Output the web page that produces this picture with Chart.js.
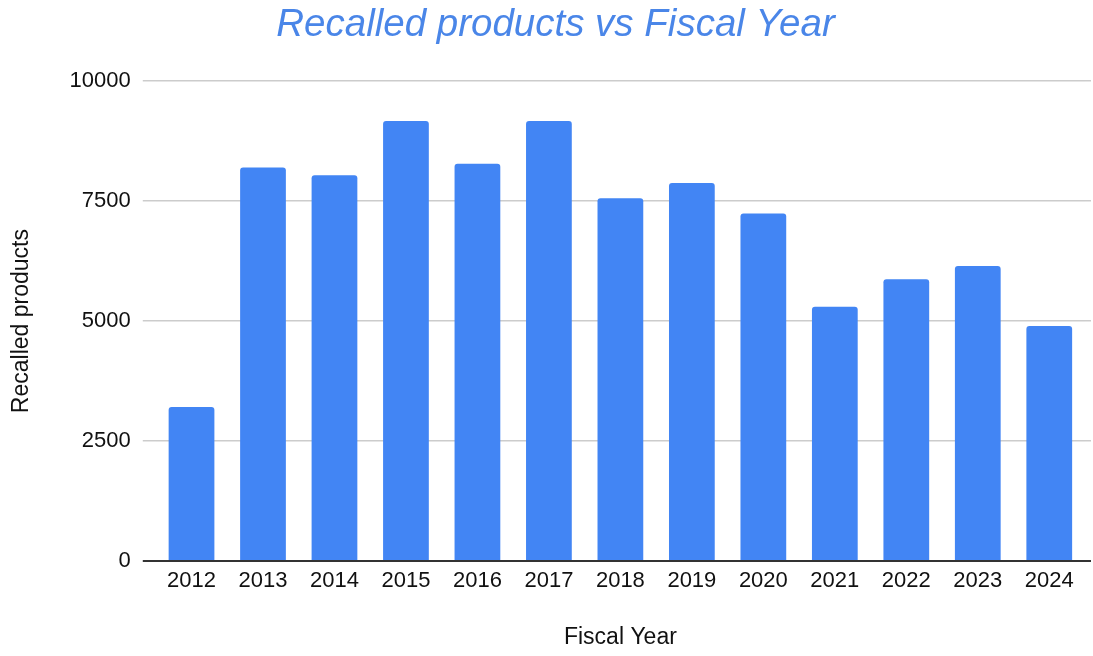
<!DOCTYPE html>
<html>
<head>
<meta charset="utf-8">
<script src="https://cdn.jsdelivr.net/npm/chart.js@4"></script>
<style>
  html, body { margin: 0; padding: 0; background: #fff; }
  #wrap { width: 1093px; height: 656px; }
</style>
</head>
<body>
<div id="wrap"><canvas id="chart"></canvas></div>
<script>
// Fiscal years on the x axis
const years = ['2012', '2013', '2014', '2015', '2016', '2017', '2018',
  '2019', '2020', '2021', '2022', '2023', '2024'];

// Recalled products per year
const recalled = [3210, 8200, 8040, 9170, 8280, 9170, 7560,
  7880, 7240, 5300, 5870, 6150, 4900];

// Y axis ticks
const yTicks = [0, 2500, 5000, 7500, 10000];

const font = 'Arial, "Liberation Sans", sans-serif';

const gridColor = (v) => (v === 0 ? '#333' : '#cccccc');
const gridWidth = (v) => (v === 0 ? 2 : 1.5);

// The original's gridlines run on past the last bar to the right edge
const extendGrid = {
  id: 'extendGrid',
  afterDraw(chart) {
    const { ctx, chartArea, width } = chart;
    const y = chart.scales.y;
    ctx.save();
    y.ticks.forEach((t) => {
      const lw = gridWidth(t.value);
      // same pixel snapping Chart.js uses for its own gridlines
      const py = Math.round(y.getPixelForValue(t.value) - lw / 2) + lw / 2;
      ctx.strokeStyle = gridColor(t.value);
      ctx.lineWidth = lw;
      ctx.beginPath();
      ctx.moveTo(chartArea.right, py);
      ctx.lineTo(width - 2, py);
      ctx.stroke();
    });
    ctx.restore();
  },
};

new Chart(document.getElementById('chart'), {
  type: 'bar',
  data: {
    labels: years,
    datasets: [{
      label: 'Recalled products',
      data: recalled,
      backgroundColor: '#4285f4',
      borderRadius: 3,
      borderSkipped: 'bottom',
      barPercentage: 0.64,
      categoryPercentage: 1,
    }],
  },
  plugins: [extendGrid],
  options: {
    responsive: true,
    maintainAspectRatio: false,
    animation: false,
    // extra left padding pushes the centred title a bit right, like the original
    layout: { padding: { left: 26, right: 8, top: 2, bottom: 5 } },
    plugins: {
      legend: { display: false },
      tooltip: { enabled: false },
      title: {
        display: true,
        text: 'Recalled products vs Fiscal Year',
        color: '#4a86e8',
        font: { family: font, size: 38.5, style: 'italic', weight: 'normal' },
        padding: { top: 0, bottom: 33 },
      },
    },
    scales: {
      x: {
        grid: { display: false, drawTicks: false },
        border: { display: false },
        ticks: { color: '#111', font: { family: font, size: 22 }, padding: 7 },
        title: {
          display: true,
          text: 'Fiscal Year',
          color: '#111',
          font: { family: font, size: 23 },
          padding: { top: 22, bottom: 0 },
        },
      },
      y: {
        min: 0,
        max: 10000,
        afterBuildTicks: (axis) => {
          axis.ticks = yTicks.map((v) => ({ value: v }));
        },
        border: { display: false },
        grid: {
          color: (ctx) => gridColor(ctx.tick ? ctx.tick.value : null),
          lineWidth: (ctx) => gridWidth(ctx.tick ? ctx.tick.value : null),
          tickLength: 13,
        },
        ticks: {
          color: '#111',
          font: { family: font, size: 22 },
          padding: 12,
          callback: (v) => String(v),
        },
        title: {
          display: true,
          text: 'Recalled products',
          color: '#111',
          font: { family: font, size: 23 },
          padding: { top: -18, bottom: 22 },
        },
      },
    },
  },
});
</script>
</body>
</html>
